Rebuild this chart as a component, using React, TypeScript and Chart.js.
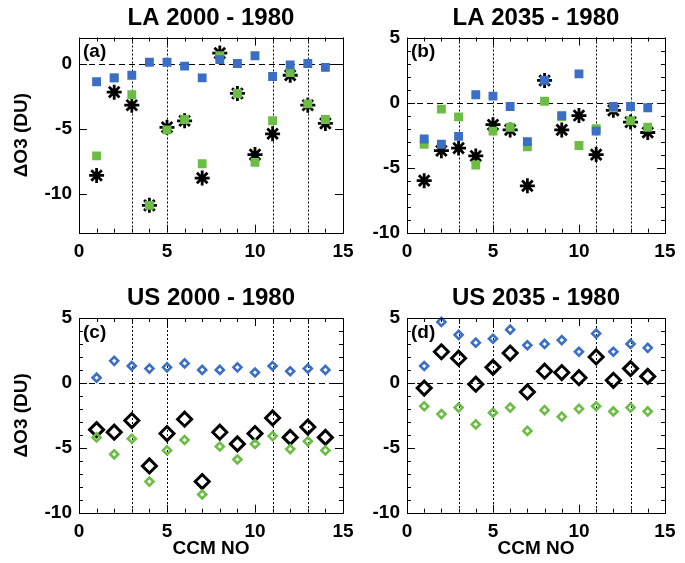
import React, { useEffect, useRef } from "react";
import { Chart, registerables } from "chart.js";

Chart.register(...registerables);

const FONT = '"Liberation Sans", Arial, Helvetica, sans-serif';

const ccmNo = [1, 2, 3, 4, 5, 6, 7, 8, 9, 10, 11, 12, 13, 14];

const la2000Blue = [-1.4, -1.1, -0.9, 0.1, 0.1, -0.2, -1.1, 0.3, 0.0, 0.6, -1.0, -0.1, 0.0, -0.3];
const la2000Green = [-7.1, -1.1, -2.4, -10.9, -5.1, -4.3, -7.7, 0.6, -2.3, -7.6, -4.4, -0.7, -3.1, -4.3];
const la2000Black = [-8.6, -2.2, -3.2, -10.9, -4.9, -4.4, -8.8, 0.8, -2.3, -7.0, -5.4, -0.9, -3.2, -4.6];

const la2035Blue = [-2.8, -3.2, -2.6, 0.6, 0.5, -0.3, -3.0, 1.7, -1.0, 2.2, -2.2, -0.3, -0.3, -0.4];
const la2035Green = [-3.2, -0.5, -1.1, -4.8, -2.2, -1.9, -3.4, 0.1, -1.1, -3.3, -2.0, -0.4, -1.4, -1.9];
const la2035Black = [-6.0, -3.7, -3.5, -4.1, -1.7, -2.1, -6.4, 1.7, -2.1, -1.0, -4.0, -0.6, -1.5, -2.3];

const us2000Blue = [0.4, 1.7, 1.3, 1.1, 1.2, 1.5, 1.0, 1.0, 1.2, 0.8, 1.3, 0.9, 1.1, 1.0];
const us2000Green = [-4.2, -5.5, -4.3, -7.6, -5.2, -4.4, -8.6, -4.9, -5.9, -4.7, -4.1, -5.1, -4.5, -5.2];
const us2000Black = [-3.6, -3.8, -2.9, -6.4, -3.9, -2.8, -7.6, -3.8, -4.7, -3.9, -2.7, -4.2, -3.4, -4.2];

const us2035Blue = [1.3, 4.7, 3.7, 3.1, 3.4, 4.1, 2.9, 3.0, 3.3, 2.4, 3.8, 2.4, 3.0, 2.7];
const us2035Green = [-1.8, -2.4, -1.9, -3.2, -2.3, -1.9, -3.7, -2.1, -2.6, -2.0, -1.8, -2.2, -1.9, -2.2];
const us2035Black = [-0.4, 2.4, 1.9, -0.1, 1.2, 2.3, -0.7, 0.9, 0.8, 0.4, 2.0, 0.2, 1.1, 0.5];

const xTickValues = [0, 5, 10, 15];
const yTickValuesLA2000 = [-10, -5, 0];
const yTickValuesOther = [-10, -5, 0, 5];
const dottedLines = [3, 5, 11, 13];

const BLUE = "#3b6fc6";
const GREEN = "#6cbd45";
const BLACK = "#000000";

const decorPlugin = {
  id: "decor",
  beforeDatasetsDraw(chart: any) {
    const { ctx, chartArea, scales } = chart;
    const { left, right, top, bottom } = chartArea;
    const x = scales.x;
    const y = scales.y;
    ctx.save();
    ctx.strokeStyle = "#000";
    ctx.lineWidth = 1;
    ctx.setLineDash([2, 2]);
    for (const v of dottedLines) {
      const px = Math.round(x.getPixelForValue(v)) + 0.5;
      ctx.beginPath();
      ctx.moveTo(px, top);
      ctx.lineTo(px, bottom);
      ctx.stroke();
    }
    ctx.setLineDash([6, 4]);
    const py = Math.round(y.getPixelForValue(0)) + 0.5;
    ctx.beginPath();
    ctx.moveTo(left, py);
    ctx.lineTo(right, py);
    ctx.stroke();
    ctx.restore();
  },
  afterDraw(chart: any, _args: any, opts: any) {
    const { ctx, chartArea, scales } = chart;
    const { left, right, top, bottom } = chartArea;
    const x = scales.x;
    const y = scales.y;
    ctx.save();
    ctx.strokeStyle = "#000";
    ctx.lineWidth = 1;
    ctx.setLineDash([]);
    ctx.strokeRect(Math.round(left) + 0.5, Math.round(top) + 0.5, Math.round(right - left), Math.round(bottom - top));
    const MAJ = 8;
    const MIN = 4;
    ctx.beginPath();
    for (let v = 0; v <= 15; v++) {
      const len = v % 5 === 0 ? MAJ : MIN;
      const px = Math.round(x.getPixelForValue(v)) + 0.5;
      ctx.moveTo(px, bottom);
      ctx.lineTo(px, bottom - len);
      ctx.moveTo(px, top);
      ctx.lineTo(px, top + len);
    }
    for (let v = Math.ceil(y.min); v <= y.max; v++) {
      const major = v % 5 === 0;
      if (!major && !opts.yMinor) continue;
      const len = major ? MAJ : MIN;
      const py = Math.round(y.getPixelForValue(v)) + 0.5;
      ctx.moveTo(left, py);
      ctx.lineTo(left + len, py);
      ctx.moveTo(right, py);
      ctx.lineTo(right - len, py);
    }
    ctx.stroke();
    ctx.fillStyle = "#000";
    ctx.font = `bold 19px ${FONT}`;
    ctx.textBaseline = "top";
    ctx.textAlign = "left";
    ctx.fillText(opts.label, left + 4, top + 5);
    ctx.restore();
  },
};

type PanelSpec = {
  title: string;
  label: string;
  blue: number[];
  green: number[];
  black: number[];
  marker: "star" | "diamond";
  yMin: number;
  yMax: number;
  yTicks: number[];
  yMinor: boolean;
  padding: { left: number; right: number; top: number; bottom: number };
  yWidth: number;
  xHeight: number;
  showYTitle: boolean;
  showXTitle: boolean;
};

const toPoints = (vals: number[]) => ccmNo.map((c, i) => ({ x: c, y: vals[i] }));

function makeDatasets(p: PanelSpec) {
  if (p.marker === "star") {
    return [
      { label: "blue", data: toPoints(p.blue), pointStyle: "rect", pointRadius: 5.2, borderColor: BLUE, backgroundColor: BLUE, pointBorderWidth: 1.5 },
      { label: "green", data: toPoints(p.green), pointStyle: "rect", pointRadius: 5.2, borderColor: GREEN, backgroundColor: GREEN, pointBorderWidth: 1.5 },
      { label: "black", data: toPoints(p.black), pointStyle: "star", pointRadius: 7.5, borderColor: BLACK, backgroundColor: BLACK, pointBorderWidth: 2.8 },
    ];
  }
  return [
    { label: "blue", data: toPoints(p.blue), pointStyle: "rectRot", pointRadius: 4, borderColor: BLUE, backgroundColor: "rgba(0,0,0,0)", pointBorderWidth: 2.6 },
    { label: "green", data: toPoints(p.green), pointStyle: "rectRot", pointRadius: 4, borderColor: GREEN, backgroundColor: "rgba(0,0,0,0)", pointBorderWidth: 2.6 },
    { label: "black", data: toPoints(p.black), pointStyle: "rectRot", pointRadius: 7, borderColor: BLACK, backgroundColor: "rgba(0,0,0,0)", pointBorderWidth: 3 },
  ];
}

function Panel({ spec }: { spec: PanelSpec }) {
  const ref = useRef<HTMLCanvasElement | null>(null);
  useEffect(() => {
    if (!ref.current) return;
    const tickFont = { family: FONT, size: 19, weight: "bold" as const, lineHeight: 1 };
    const chart = new Chart(ref.current, {
      type: "scatter",
      data: { datasets: makeDatasets(spec) as any },
      plugins: [decorPlugin],
      options: {
        animation: false,
        responsive: false,
        devicePixelRatio: 1,
        events: [],
        layout: { padding: spec.padding },
        elements: { point: { hoverRadius: 0 } },
        datasets: { scatter: { clip: false } } as any,
        plugins: {
          legend: { display: false },
          tooltip: { enabled: false },
          title: {
            display: true,
            text: spec.title,
            fullSize: false,
            color: "#000",
            font: { family: FONT, size: 24, weight: "bold", lineHeight: 1 },
            padding: { top: 6, bottom: 7.5 },
          },
          decor: { label: spec.label, yMinor: spec.yMinor },
        } as any,
        scales: {
          x: {
            type: "linear",
            position: "bottom",
            min: 0,
            max: 15,
            grid: { display: false, drawTicks: false },
            border: { display: false },
            afterBuildTicks: (scale: any) => {
              scale.ticks = xTickValues.map((v) => ({ value: v }));
            },
            afterFit: (scale: any) => {
              scale.height = spec.xHeight;
            },
            ticks: { color: "#000", font: tickFont, padding: 9.5, maxRotation: 0, autoSkip: false },
            title: {
              display: spec.showXTitle,
              text: "CCM NO",
              color: "#000",
              font: tickFont,
              padding: { top: 0, bottom: 5 },
            },
          },
          y: {
            type: "linear",
            position: "left",
            min: spec.yMin,
            max: spec.yMax,
            grid: { display: false, drawTicks: false },
            border: { display: false },
            afterBuildTicks: (scale: any) => {
              scale.ticks = spec.yTicks.map((v) => ({ value: v }));
            },
            afterFit: (scale: any) => {
              scale.width = spec.yWidth;
            },
            ticks: { color: "#000", font: tickFont, padding: 7, autoSkip: false },
            title: {
              display: spec.showYTitle,
              text: "ΔO3 (DU)",
              color: "#000",
              font: tickFont,
              padding: { top: 12, bottom: 0 },
            },
          },
        },
      } as any,
    });
    return () => chart.destroy();
  }, [spec]);
  return (
    <canvas
      ref={ref}
      width={685}
      height={563}
      style={{ position: "absolute", left: 0, top: 0, width: 685, height: 563 }}
    />
  );
}

const panels: PanelSpec[] = [
  {
    title: "LA 2000 - 1980", label: "(a)", blue: la2000Blue, green: la2000Green, black: la2000Black,
    marker: "star", yMin: -13, yMax: 2, yTicks: yTickValuesLA2000, yMinor: false,
    padding: { left: 0, right: 342, top: 0, bottom: 300.3 }, yWidth: 79, xHeight: 30,
    showYTitle: true, showXTitle: false,
  },
  {
    title: "LA 2035 - 1980", label: "(b)", blue: la2035Blue, green: la2035Green, black: la2035Black,
    marker: "star", yMin: -10, yMax: 5, yTicks: yTickValuesOther, yMinor: true,
    padding: { left: 367, right: 14, top: 0, bottom: 300.3 }, yWidth: 40, xHeight: 30,
    showYTitle: false, showXTitle: false,
  },
  {
    title: "US 2000 - 1980", label: "(c)", blue: us2000Blue, green: us2000Green, black: us2000Black,
    marker: "diamond", yMin: -10, yMax: 5, yTicks: yTickValuesOther, yMinor: true,
    padding: { left: 0, right: 342, top: 280.5, bottom: 0 }, yWidth: 79, xHeight: 50.3,
    showYTitle: true, showXTitle: true,
  },
  {
    title: "US 2035 - 1980", label: "(d)", blue: us2035Blue, green: us2035Green, black: us2035Black,
    marker: "diamond", yMin: -10, yMax: 5, yTicks: yTickValuesOther, yMinor: true,
    padding: { left: 367, right: 14, top: 280.5, bottom: 0 }, yWidth: 40, xHeight: 50.3,
    showYTitle: false, showXTitle: true,
  },
];

export default function App() {
  return (
    <div style={{ position: "fixed", left: 0, top: 0, width: 685, height: 563, background: "#fff" }}>
      {panels.map((p) => (
        <Panel key={p.label} spec={p} />
      ))}
    </div>
  );
}
